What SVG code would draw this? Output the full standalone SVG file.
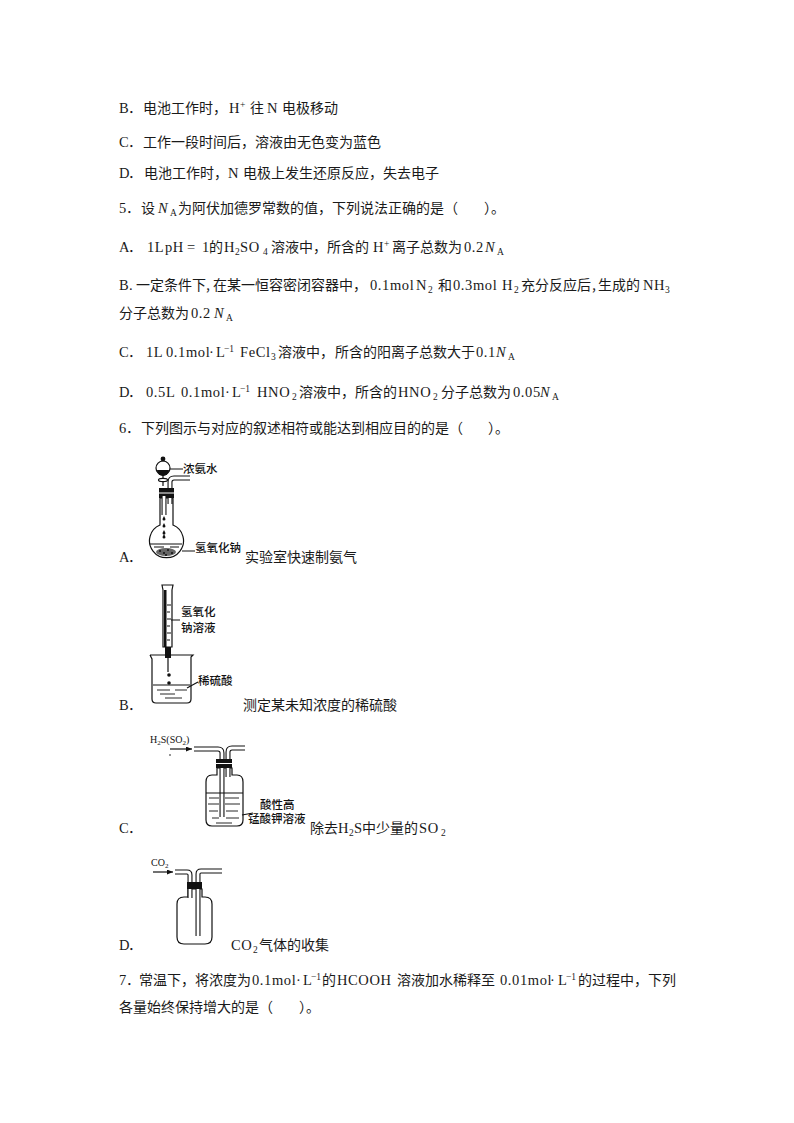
<svg xmlns="http://www.w3.org/2000/svg" width="794" height="1123" viewBox="0 0 794 1123">
<style>
text{fill:#1a1a1a;font-family:"Liberation Serif","Noto Sans CJK SC",serif;font-size:14px}
.c{font-family:"Noto Sans CJK SC",sans-serif;font-size:14px}
.i{font-style:italic}
.s{font-size:9.500px}
.m{font-size:14.500px;letter-spacing:.6px}
.b{font-family:"Noto Sans CJK SC",sans-serif;font-size:11.500px;font-weight:500;fill:#111}
.f{font-size:10px;fill:#111}
.o{fill:none;stroke:#111;stroke-width:1.200}
.k{fill:#111;stroke:none}
.w{fill:#fff;stroke:#111;stroke-width:1.200}
.t1{fill:none;stroke:#111;stroke-width:5;stroke-linejoin:round}
.t2{fill:none;stroke:#fff;stroke-width:2.800;stroke-linejoin:round}
.d{fill:none;stroke:#111;stroke-width:.9}
</style>
<defs><marker id="a" markerUnits="userSpaceOnUse" markerWidth="6" markerHeight="5" refX="6" refY="2.500" orient="auto"><path d="M0 0L6 2.500L0 5Z" fill="#111"/></marker></defs>
<rect width="794" height="1123" fill="#fff"/>
<g id="q4">
<text class="m" x="119" y="113">B</text><text class="c" x="128" y="113">．</text><text class="c" x="143" y="113">电池工作时，</text><text class="m" x="229" y="113">H</text><text class="s" x="240" y="108">+</text><text class="c" x="250" y="113">往</text><text class="m" x="267" y="113">N</text><text class="c" x="282" y="113">电极移动</text>
<text class="m" x="119" y="147">C</text><text class="c" x="128" y="147">．</text><text class="c" x="143" y="147">工作一段时间后，溶液由无色变为蓝色</text>
<text class="m" x="119" y="178">D</text><text class="c" x="128" y="178">．</text><text class="c" x="144" y="178">电池工作时，</text><text class="m" x="228" y="178">N</text><text class="c" x="243" y="178">电极上发生还原反应，失去电子</text>
</g>
<g id="q5">
<text class="m" x="119" y="213">5</text><text class="c" x="126" y="213">．</text><text class="c" x="141" y="213">设</text><text class="m i" x="158" y="213">N</text><text class="s" x="170" y="216">A</text><text class="c" x="178" y="213">为阿伏加德罗常数的值，下列说法正确的是（</text><text class="c" x="484" y="213">）。</text>
<text class="m" x="119" y="252">A</text><text class="c" x="128" y="252">．</text><text class="m" x="147" y="252">1L</text><text class="m" x="165" y="252">pH</text><text class="m" x="187" y="252">=</text><text class="m" x="202" y="252">1</text><text class="c" x="209" y="252">的</text><text class="m" x="224" y="252">H</text><text class="s" x="235" y="255">2</text><text class="m" x="240" y="252">SO</text><text class="s" x="263" y="255">4</text><text class="c" x="271" y="252">溶液中，所含的</text><text class="m" x="373" y="252">H</text><text class="s" x="384" y="247">+</text><text class="c" x="392" y="252">离子总数为</text><text class="m" x="464" y="252">0.2</text><text class="m i" x="485" y="252">N</text><text class="s" x="497" y="255">A</text>
<text class="m" x="119" y="290">B</text><text class="m" x="129" y="290">.</text><text class="c" x="136" y="290">一定条件下</text><text class="c" x="206" y="290">,</text><text class="c" x="213" y="290">在某一恒容密闭容器中，</text><text class="m" x="370" y="290">0.1mol</text><text class="m" x="416" y="290">N</text><text class="s" x="428" y="293">2</text><text class="c" x="438" y="290">和</text><text class="m" x="453" y="290">0.3mol</text><text class="m" x="502" y="290">H</text><text class="s" x="514" y="293">2</text><text class="c" x="521" y="290">充分反应后</text><text class="c" x="592" y="290">,</text><text class="c" x="598" y="290">生成的</text><text class="m" x="643" y="290">NH</text><text class="s" x="665" y="293">3</text>
<text class="c" x="119" y="318">分子总数为</text><text class="m" x="191" y="318">0.2</text><text class="m i" x="214" y="318">N</text><text class="s" x="226" y="321">A</text>
<text class="m" x="119" y="357">C</text><text class="c" x="128" y="357">．</text><text class="m" x="146" y="357">1L</text><text class="m" x="166" y="357">0.1mol</text><text class="m" x="209" y="357">·</text><text class="m" x="216" y="357">L</text><text class="s" x="224" y="352">−1</text><text class="m" x="240" y="357">FeCl</text><text class="s" x="271" y="360">3</text><text class="c" x="278" y="357">溶液中，</text><text class="c" x="335" y="357">所含的阳离子总数大于</text><text class="m" x="476" y="357">0.1</text><text class="m i" x="496" y="357">N</text><text class="s" x="508" y="360">A</text>
<text class="m" x="119" y="397">D</text><text class="c" x="128" y="397">．</text><text class="m" x="146" y="397">0.5L</text><text class="m" x="181" y="397">0.1mol</text><text class="m" x="225" y="397">·</text><text class="m" x="232" y="397">L</text><text class="s" x="240" y="392">−1</text><text class="m" x="257" y="397">HNO</text><text class="s" x="292" y="400">2</text><text class="c" x="299" y="397">溶液中，</text><text class="c" x="355" y="397">所含的</text><text class="m" x="398" y="397">HNO</text><text class="s" x="433" y="400">2</text><text class="c" x="441" y="397">分子总数为</text><text class="m" x="513" y="397">0.05</text><text class="m i" x="540" y="397">N</text><text class="s" x="552" y="400">A</text>
</g>
<g id="q6">
<text class="m" x="119" y="433">6</text><text class="c" x="126" y="433">．</text><text class="c" x="141" y="433">下列图示与对应的叙述相符或能达到相应目的的是（</text><text class="c" x="488" y="433">）。</text>
</g>
<g id="figA">
<circle class="w" cx="163" cy="468" r="7"/><circle class="k" cx="163" cy="459" r="2.400"/><path class="k" d="M157 470h12a6 6 0 0 1-12 0Z"/>
<path class="o" d="M163 475V486"/><ellipse class="w" cx="163" cy="480" rx="4.500" ry="1.600"/>
<path class="t1" d="M170 504V482Q170 478 174 478H190"/><path class="t2" d="M170 504V482Q170 478 174 478H190"/>
<path class="w" d="M160 498V525A17 17 0 1 0 173 525V498Z"/>
<rect class="k" x="159" y="488" width="15" height="10"/><path d="M158 493H175" stroke="#fff" stroke-width="1"/>
<path class="t1" d="M164 496V515"/><path class="t2" d="M164 496V515"/><path class="t1" d="M170 498V504"/><path class="t2" d="M170 498V504"/>
<path class="k" d="M164 516l-1.500 3a1.500 1.500 0 0 0 3 0ZM164 523l-1.500 3a1.500 1.500 0 0 0 3 0ZM164 530l-1.500 3a1.500 1.500 0 0 0 3 0ZM164 534l-1.500 3a1.500 1.500 0 0 0 3 0Z"/>
<path class="o" d="M150 544H182M154 547H164M170 547H179"/>
<ellipse cx="166" cy="552" rx="10" ry="4" fill="#666"/><path d="M159 551h2M163 553h2M167 550h2M171 553h2M165 555h2" stroke="#111" stroke-width="1.500" fill="none"/>
<path class="o" d="M170 469H183M182 551H195"/>
<text class="b" x="183" y="473">浓氨水</text><text class="b" x="195" y="552">氢氧化钠</text>
<text class="m" x="119" y="562">A</text><text class="c" x="128" y="562">．</text><text class="c" x="245" y="562">实验室快速制氨气</text>
</g>
<g id="figB">
<path class="w" d="M162 585H173L172 590V647H163V590Z"/>
<path class="k" d="M164 590H166.500V647H164ZM165 647H171V658H165Z"/>
<path d="M167 605h4M167 612h3M167 619h4M167 626h3M167 633h4M167 640h3" stroke="#111" stroke-width="1.200" fill="none"/>
<path class="o" d="M168 658V672"/><circle class="k" cx="169" cy="675" r="1.800"/><circle class="k" cx="169" cy="683" r="1.800"/>
<path class="o" d="M150 655L152 659V699Q152 703 156 703H187Q191 703 191 699V657L193 655H150"/>
<path class="o" d="M153 685H190"/><path class="d" d="M157 690H170M175 690H187M160 694H175M165 698H182"/>
<path class="o" d="M171 620H180M187 688L198 682"/>
<text class="b" x="181" y="616">氢氧化</text><text class="b" x="181" y="632">钠溶液</text><text class="b" x="198" y="685">稀硫酸</text>
<text class="m" x="119" y="710">B</text><text class="c" x="128" y="710">．</text><text class="c" x="243" y="710">测定某未知浓度的稀硫酸</text>
</g>
<g id="figC">
<text class="f" x="150" y="743">H<tspan font-size="7" dy="2">2</tspan><tspan dy="-2">S(SO</tspan><tspan font-size="7" dy="2">2</tspan><tspan dy="-2">)</tspan></text>
<path class="o" d="M170 749H192" marker-end="url(#a)"/><circle class="k" cx="170" cy="755" r=".8"/>
<path class="w" d="M217 768V775H212Q206 775 206 782V820Q206 826 212 826H237Q243 826 243 820V782Q243 775 237 775H232V768Z"/>
<path class="t1" d="M194 749H218Q222 749 222 753V817"/><path class="t2" d="M194 749H218Q222 749 222 753V817"/>
<path class="t1" d="M245 748H232Q228 748 228 752V777"/><path class="t2" d="M245 748H232Q228 748 228 752V777"/>
<rect class="k" x="216" y="759" width="16" height="9"/><path d="M215 763.500H233" stroke="#fff"/>
<path class="o" d="M206 793H243"/><path class="d" d="M209 798H219M225 798H239M208 804H219M225 804H240M209 811H218M226 811H238M212 818H219M226 818H239M216 823H232"/>
<path class="o" d="M242 815L253 813"/>
<text class="b" x="260" y="809">酸性高</text><text class="b" x="248" y="823">锰酸钾溶液</text>
<text class="m" x="119" y="833">C</text><text class="c" x="128" y="833">．</text><text class="c" x="310" y="833">除去</text><text class="m" x="338" y="833">H</text><text class="s" x="349" y="836">2</text><text class="m" x="354" y="833">S</text><text class="c" x="362" y="833">中少量的</text><text class="m" x="419" y="833">SO</text><text class="s" x="441" y="836">2</text>
</g>
<g id="figD">
<text class="f" x="151" y="866">CO<tspan font-size="7" dy="2">2</tspan></text>
<path class="o" d="M153 872H173" marker-end="url(#a)"/>
<path class="w" d="M188 889V897H184Q177 897 177 904V937Q177 944 184 944H205Q212 944 212 937V904Q212 897 205 897H202V889Z"/>
<path class="t1" d="M175 872H187Q190 872 190 875V898"/><path class="t2" d="M175 872H187Q190 872 190 875V898"/>
<path class="t1" d="M222 871H201Q198 871 198 874V936"/><path class="t2" d="M222 871H201Q198 871 198 874V936"/>
<rect class="k" x="187" y="882" width="15" height="7"/>
<text class="m" x="119" y="950">D</text><text class="c" x="128" y="950">．</text><text class="m" x="231" y="950">CO</text><text class="s" x="253" y="953">2</text><text class="c" x="259" y="950">气体的收集</text>
</g>
<g id="q7">
<text class="m" x="119" y="985">7</text><text class="c" x="126" y="985">．</text><text class="c" x="139" y="985">常温下，将浓度为</text><text class="m" x="252" y="985">0.1mol</text><text class="m" x="296" y="985">·</text><text class="m" x="303" y="985">L</text><text class="s" x="311" y="980">−1</text><text class="c" x="322" y="985">的</text><text class="m" x="337" y="985">HCOOH</text><text class="c" x="397" y="985">溶液加水稀释至</text><text class="m" x="500" y="985">0.01mol</text><text class="m" x="550" y="985">·</text><text class="m" x="558" y="985">L</text><text class="s" x="566" y="980">−1</text><text class="c" x="578" y="985">的过程中，下列</text>
<text class="c" x="119" y="1012">各量始终保持增大的是（</text><text class="c" x="299" y="1012">）。</text>
</g>
</svg>
